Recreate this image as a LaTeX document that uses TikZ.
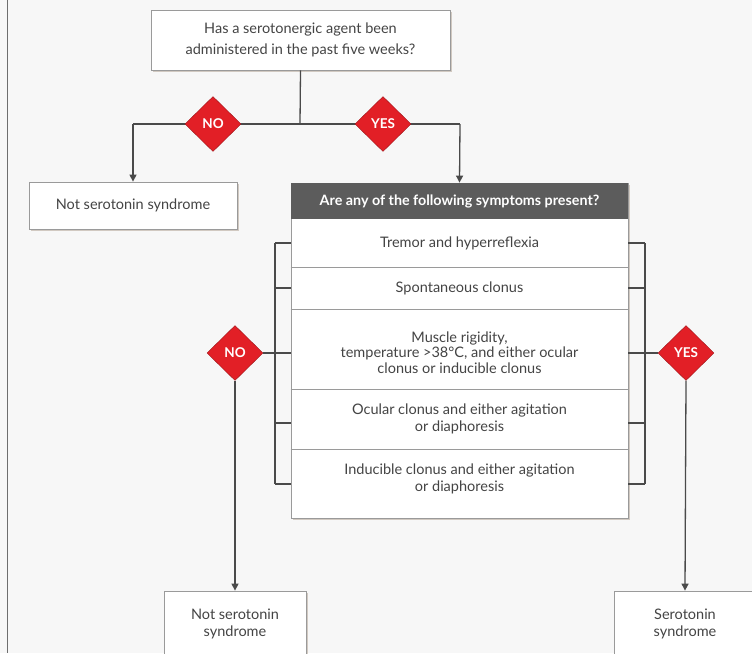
\documentclass[tikz,border=0pt]{standalone}
\usepackage{fontspec}
\setmainfont{Lato}
\usetikzlibrary{shapes.geometric,arrows.meta,shadows}
\definecolor{bg}{HTML}{F7F7F7}
\definecolor{ln}{HTML}{4A4A4A}
\definecolor{bx}{HTML}{9A9A9A}
\definecolor{tx}{HTML}{444444}
\definecolor{hd}{HTML}{5C5C5C}
\definecolor{dred}{HTML}{E21F26}
\tikzset{
  every node/.style={font=\fontsize{14.5}{17}\selectfont, text=tx},
  box/.style={draw=bx, line width=0.8pt, fill=white, align=center, inner sep=0pt,
    drop shadow={shadow xshift=1.5pt, shadow yshift=-1.5pt, opacity=0.25, fill=brown!50!black}},
  dec/.style={shape=diamond, fill=dred, draw=dred!70!black, line width=0.4pt, inner sep=0pt,
    minimum width=56pt, minimum height=55pt, text=white, font=\fontsize{13.5}{15}\selectfont\bfseries},
  conn/.style={draw=ln, line width=1.3pt},
  arr/.style={conn, -{Triangle[length=7pt,width=7pt]}},
  rowtext/.style={align=center, inner sep=0pt}
}
\begin{document}
\begin{tikzpicture}[x=1pt,y=-1pt]
\fill[bg] (0,0) rectangle (752,653);
\useasboundingbox (0,0) rectangle (752,653);
\draw[draw=ln!80, line width=1.5pt] (7.5,0) -- (7.5,653);

% top question
\node[box, minimum width=299pt, minimum height=60pt, font=\fontsize{14.5}{20.5}\selectfont] (q1) at (300.5,40)
  {Has a serotonergic agent been\\administered in the past five weeks?};
\coordinate (j1) at (300,124);
\coordinate (lt) at (133,124);
\coordinate (rt) at (460,124);
\draw[conn] (q1.south) -- (j1);
\draw[conn] (lt) -- (rt);
\node[dec] (no1) at (213,124) {NO};
\node[dec] (yes1) at (383,124) {YES};

\node[box, minimum width=208pt, minimum height=47pt] (not1) at (133,205.5) {Not serotonin syndrome};
\draw[arr] (lt) -- (not1.north);

% table
\node[box, minimum width=337pt, minimum height=335pt] (tab) at (459.5,350.5) {};
\node[fill=hd, minimum width=337pt, minimum height=36pt, inner sep=0pt, text=white,
  font=\fontsize{14.3}{17}\selectfont\bfseries] (hdr) at (459.5,201) {Are any of the following symptoms present?};
\draw[arr] (rt) -- (tab.north);
\foreach \yy in {267,309,389,449} \draw[draw=bx, line width=0.8pt] (tab.west |- 0,\yy) -- (tab.east |- 0,\yy);
\node[rowtext] (r1) at (459.5,243) {Tremor and hyperreflexia};
\node[rowtext] (r2) at (459.5,288) {Spontaneous clonus};
\node[rowtext, font=\fontsize{14.5}{15.5}\selectfont] (r3) at (459.5,352.5) {Muscle rigidity,\\temperature >38°C, and either ocular\\clonus or inducible clonus};
\node[rowtext] (r4) at (459.5,418.5) {Ocular clonus and either agitation\\or diaphoresis};
\node[rowtext] (r5) at (459.5,479) {Inducible clonus and either agitation\\or diaphoresis};

% brackets
\coordinate (lb1) at (275,243);
\coordinate (lb5) at (275,484);
\coordinate (rb1) at (645,243);
\coordinate (rb5) at (645,484);
\draw[conn] (lb1) -- (lb5);
\draw[conn] (rb1) -- (rb5);
\foreach \yy in {243,288,353,423,484} {
  \draw[conn] (275,\yy) -- (tab.west |- 0,\yy);
  \draw[conn] (tab.east |- 0,\yy) -- (645,\yy);
}
\node[dec] (no2) at (235,353) {NO};
\node[dec] (yes2) at (686,353) {YES};
\draw[conn] (275,353) -- (no2.east);
\draw[conn] (645,353) -- (yes2.west);

% outcomes
\begin{scope}
\clip (0,0) rectangle (752,653);
\node[box, minimum width=142pt, minimum height=66pt, font=\fontsize{14.5}{18}\selectfont] (not2) at (235,624) {\raisebox{3pt}{\begin{tabular}{@{}c@{}}Not serotonin\\[-1pt]syndrome\end{tabular}}};
\node[box, minimum width=142pt, minimum height=66pt, font=\fontsize{14.5}{18}\selectfont] (ss) at (685,624) {\raisebox{3pt}{\begin{tabular}{@{}c@{}}Serotonin\\[-1pt]syndrome\end{tabular}}};
\end{scope}
\draw[arr] (no2.south) -- (not2.north);
\draw[arr] (yes2.south) -- (ss.north);
\end{tikzpicture}
\end{document}
